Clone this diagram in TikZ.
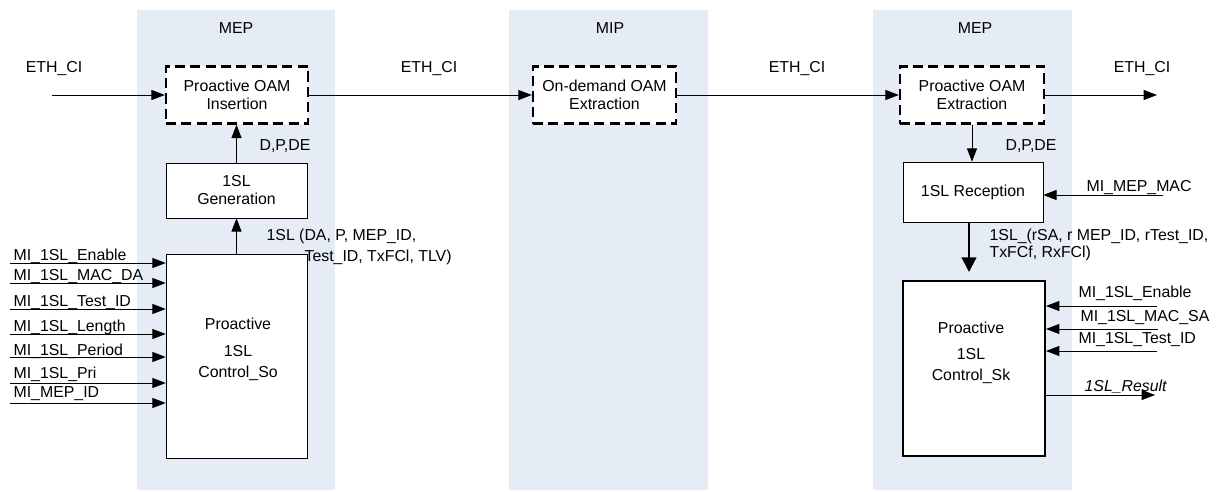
\documentclass[tikz,border=0pt]{standalone}
\usepackage{fontspec}
\setmainfont{Liberation Sans}
\usetikzlibrary{arrows.meta}
\definecolor{bandblue}{HTML}{E6ECF6}
\begin{document}
\begin{tikzpicture}[
  x=0.75pt, y=-0.75pt,
  font=\fontsize{11.9}{13.5}\selectfont,
  band/.style={fill=bandblue, draw=none},
  oambox/.style={
    draw,
    dash pattern=on 7.5pt off 4pt,
    line width=1.8pt,
    fill=white,
    align=center,
    minimum height=42.75pt,
    inner sep=2pt
  },
  blockbox/.style={draw, fill=white, align=center, inner sep=2pt},
  lbl/.style={inner sep=1pt},
  arrow/.style={-{Triangle[length=10pt,width=7.5pt]}, line width=0.6pt},
  bigarrow/.style={-{Triangle[length=11pt,width=11pt]}, line width=1.6pt}
]
\useasboundingbox (0,0) rectangle (1216,492);

% shaded MEP / MIP columns
\fill[band] (137,10) rectangle (335,490);
\fill[band] (509,10) rectangle (708,490);
\fill[band] (873,10) rectangle (1072,490);

\node[lbl] (mepa) at (236,28) {MEP};
\node[lbl] (mip) at (610,28) {MIP};
\node[lbl] (mepb) at (975,28) {MEP};

% OAM blocks
\node[oambox, minimum width=106.5pt] (ins) at (237,95) {Proactive OAM\\Insertion};
\node[oambox, minimum width=107.25pt] (odx) at (604.5,95) {On-demand OAM\\Extraction};
\node[oambox, minimum width=108pt] (pex) at (972,95) {Proactive OAM\\Extraction};

\node[lbl] (cia) at (54,69) {ETH\_CI};
\node[lbl] (cib) at (429,69) {ETH\_CI};
\node[lbl] (cic) at (797,69) {ETH\_CI};
\node[lbl] (cid) at (1142,69) {ETH\_CI};

\coordinate (ciin) at (52,95);
\coordinate (ciout) at (1157,95);
\draw[arrow] (ciin) -- (ins);
\draw[arrow] (ins) -- (odx);
\draw[arrow] (odx) -- (pex);
\draw[arrow] (pex) -- (ciout);

% source side
\node[blockbox, minimum width=105.75pt, minimum height=41.25pt] (gen) at (236.5,190.5) {1SL\\Generation};
\node[blockbox, minimum width=105.75pt, minimum height=153pt] (ctrlso) at (236.5,356) {};
\node[lbl, align=center] (sotext) at (238,349) {Proactive\\[7pt]1SL\\[2pt]Control\_So};

\draw[arrow] (gen.north) -- (gen.north |- ins.south);
\draw[arrow] (ctrlso) -- (gen);
\node[lbl] (dpdea) at (285,146) {D,P,DE};
\node[lbl, anchor=base west] (solbla) at (265,240) {1SL (DA, P, MEP\_ID,};
\node[lbl, anchor=base west] (solblb) at (303,261) {Test\_ID, TxFCl, TLV)};

\node[lbl, anchor=base west] (mienable) at (12,260) {MI\_1SL\_Enable};
\node[lbl, anchor=base west] (mimacda) at (12,280) {MI\_1SL\_MAC\_DA};
\node[lbl, anchor=base west] (mitestid) at (12,306) {MI\_1SL\_Test\_ID};
\node[lbl, anchor=base west] (milength) at (12,331) {MI\_1SL\_Length};
\node[lbl, anchor=base west] (miperiod) at (12,355) {MI\_1SL\_Period};
\node[lbl, anchor=base west] (mipri) at (12,378) {MI\_1SL\_Pri};
\node[lbl, anchor=base west] (mimepid) at (12,397) {MI\_MEP\_ID};

\coordinate (ina) at (10,263);
\coordinate (inb) at (10,283);
\coordinate (inc) at (10,309);
\coordinate (ind) at (10,334);
\coordinate (ine) at (10,357);
\coordinate (inf) at (10,383);
\coordinate (ing) at (10,403);
\draw[arrow] (ina) -- (ina -| ctrlso.west);
\draw[arrow] (inb) -- (inb -| ctrlso.west);
\draw[arrow] (inc) -- (inc -| ctrlso.west);
\draw[arrow] (ind) -- (ind -| ctrlso.west);
\draw[arrow] (ine) -- (ine -| ctrlso.west);
\draw[arrow] (inf) -- (inf -| ctrlso.west);
\draw[arrow] (ing) -- (ing -| ctrlso.west);

% sink side
\node[blockbox, minimum width=105pt, minimum height=45pt] (rcv) at (973,192) {1SL Reception};
\node[blockbox, line width=1.5pt, minimum width=106.5pt, minimum height=131.25pt] (ctrlsk) at (974,368.5) {};
\node[lbl, align=center] (sktext) at (971,353) {Proactive\\[6pt]1SL\\[2pt]Control\_Sk};

\draw[arrow] (pex.south) -- (pex.south |- rcv.north);
\node[lbl] (dpdeb) at (1031,146) {D,P,DE};

\node[lbl, anchor=base west] (mimepmac) at (1085,191) {MI\_MEP\_MAC};
\coordinate (macin) at (1163,195);
\draw[arrow] (macin) -- (macin -| rcv.east);

\draw[bigarrow, shorten >=6pt] (rcv.south -| 969,0) -- (ctrlsk.north -| 969,0);
\node[lbl, anchor=base west] (sklbla) at (988,240) {1SL\_(rSA, r MEP\_ID, rTest\_ID,};
\node[lbl, anchor=base west] (sklblb) at (988,257) {TxFCf, RxFCl)};

\node[lbl, anchor=base west] (skenable) at (1077,297) {MI\_1SL\_Enable};
\node[lbl, anchor=base west] (skmacsa) at (1079,321) {MI\_1SL\_MAC\_SA};
\node[lbl, anchor=base west] (sktestid) at (1077,343) {MI\_1SL\_Test\_ID};
\coordinate (ska) at (1157,306);
\coordinate (skb) at (1158,329);
\coordinate (skc) at (1157,351);
\draw[arrow] (ska) -- (ska -| ctrlsk.east);
\draw[arrow] (skb) -- (skb -| ctrlsk.east);
\draw[arrow] (skc) -- (skc -| ctrlsk.east);

\node[lbl, anchor=base west, font=\fontsize{11.9}{13.5}\selectfont\itshape] (result) at (1083,391) {1SL\_Result};
\coordinate (resout) at (1155,395);
\draw[arrow] (resout -| ctrlsk.east) -- (resout);
\end{tikzpicture}
\end{document}
